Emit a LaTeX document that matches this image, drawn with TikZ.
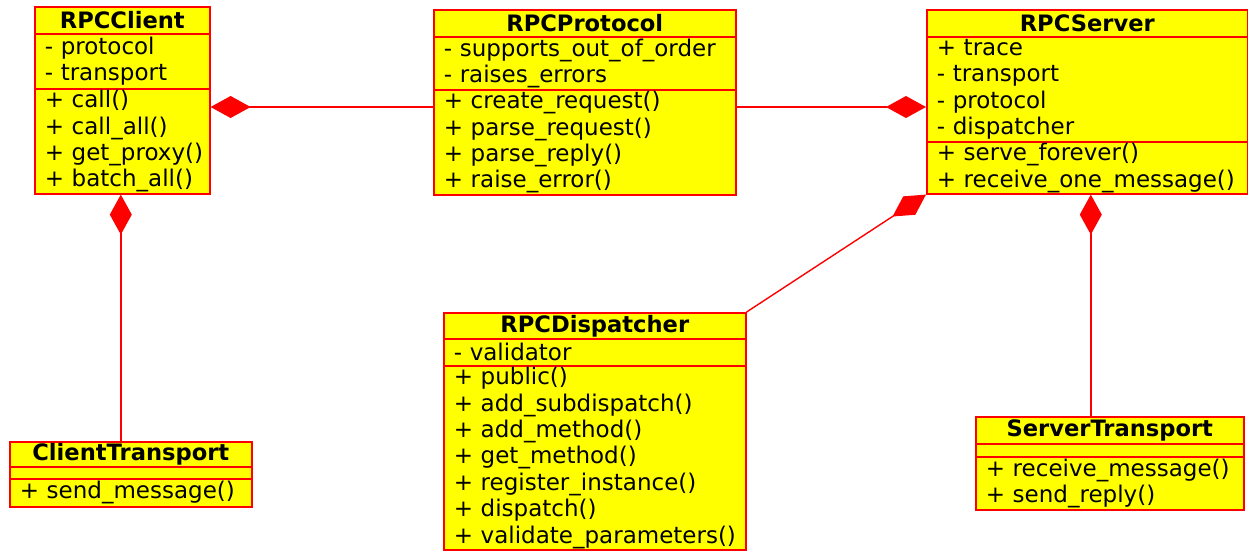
\documentclass[tikz,border=0pt]{standalone}
\usepackage{fontspec}
\setmainfont{DejaVu Sans}
\usetikzlibrary{arrows.meta}
\hyphenpenalty=10000
\exhyphenpenalty=10000
\definecolor{umlred}{RGB}{255,0,0}
\definecolor{umlyellow}{RGB}{255,255,0}
\newcommand{\umlfs}{\fontsize{23.0}{26.4}\selectfont}
\newcommand{\umltfs}{\fontsize{22.6}{26.4}\selectfont\bfseries}
\tikzset{
  comp/.style={draw=umlred, fill=umlyellow, line width=1.6pt, inner xsep=10pt, inner ysep=0pt,
    anchor=north west, align=left, font=\umlfs, text=black},
  ctitle/.style={comp, align=center, font=\umltfs},
  assoc/.style={draw=umlred, line width=1.4pt},
  dia/.tip={Diamond[length=40pt,width=22pt,fill=umlred,color=umlred]},
}
\begin{document}
\begin{tikzpicture}[x=1pt,y=-1pt]
\useasboundingbox (0,0) rectangle (1248,550);
% RPCClient
\node[ctitle, text width=155pt, minimum height=27pt] (cli-t) at (34,6) {RPCClient};
\node[comp, text width=155pt, minimum height=55pt] (cli-a) at (34,33) {-~protocol\\-~transport};
\node[comp, text width=155pt, minimum height=105pt] (cli-m) at (34,88) {+~call()\\+~call\_all()\\+~get\_proxy()\\+~batch\_all()};
% RPCProtocol
\node[ctitle, text width=282pt, minimum height=27pt] (pro-t) at (433,9) {RPCProtocol};
\node[comp, text width=282pt, minimum height=53pt] (pro-a) at (433,36) {-~supports\_out\_of\_order\\-~raises\_errors};
\node[comp, text width=282pt, minimum height=105pt] (pro-m) at (433,89) {+~create\_request()\\+~parse\_request()\\+~parse\_reply()\\+~raise\_error()};
% RPCServer
\node[ctitle, text width=301pt, minimum height=27pt] (srv-t) at (926,9) {RPCServer};
\node[comp, text width=301pt, minimum height=105pt] (srv-a) at (926,36) {+~trace\\-~transport\\-~protocol\\-~dispatcher};
\node[comp, text width=301pt, minimum height=52pt] (srv-m) at (926,141) {+~serve\_forever()\\+~receive\_one\_message()};
% ClientTransport
\node[ctitle, text width=222pt, minimum height=25pt] (ct-t) at (9,441) {ClientTransport};
\node[comp, text width=222pt, minimum height=12pt] (ct-a) at (9,466) {};
\node[comp, text width=222pt, minimum height=28pt] (ct-m) at (9,478) {+~send\_message()};
% RPCDispatcher
\node[ctitle, text width=282pt, minimum height=26pt] (dis-t) at (443,312) {RPCDispatcher};
\node[comp, text width=282pt, minimum height=27pt] (dis-a) at (443,338) {-~validator};
\node[comp, text width=282pt, minimum height=184pt] (dis-m) at (443,365) {+~public()\\+~add\_subdispatch()\\+~add\_method()\\+~get\_method()\\+~register\_instance()\\+~dispatch()\\+~validate\_parameters()};
% ServerTransport
\node[ctitle, text width=248pt, minimum height=27pt] (st-t) at (975,416) {ServerTransport};
\node[comp, text width=248pt, minimum height=13pt] (st-a) at (975,443) {};
\node[comp, text width=248pt, minimum height=53pt] (st-m) at (975,456) {+~receive\_message()\\+~send\_reply()};
% connectors
\draw[assoc, {dia}-] ([yshift=-19pt]cli-m.north east) -- ([yshift=-18pt]pro-m.north west);
\draw[assoc, -{dia}] ([yshift=-18pt]pro-m.north east) -- ([yshift=-71pt]srv-a.north west);
\draw[assoc, -{dia}] (dis-t.north east) -- (srv-m.south west);
\coordinate (cdrop) at ([xshift=-1.5pt]cli-m.south);
\draw[assoc, {dia}-] (cdrop) -- (cdrop |- ct-t.north);
\coordinate (sdrop) at ([xshift=3.5pt]srv-m.south);
\draw[assoc, {dia}-] (sdrop) -- (sdrop |- st-t.north);
\end{tikzpicture}
\end{document}
